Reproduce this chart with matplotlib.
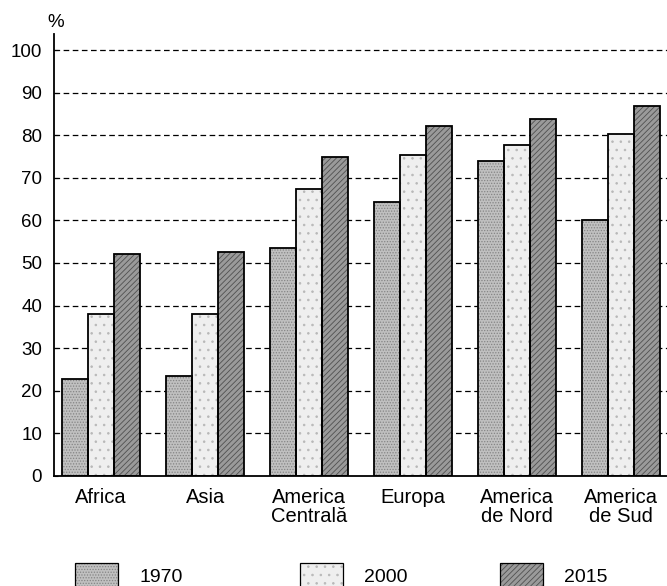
import numpy as np
import matplotlib
matplotlib.use("Agg")
import matplotlib.pyplot as plt
from matplotlib.patches import Patch

plt.rcParams['font.family'] = ['Liberation Sans', 'DejaVu Sans']
plt.rcParams['hatch.linewidth'] = 0.6

regions = ['Africa', 'Asia', 'America\nCentrală', 'Europa', 'America\nde Nord', 'America\nde Sud']
years = ['1970', '2000', '2015']
val_1970 = [22.8, 23.5, 53.6, 64.4, 74.0, 60.2]
val_2000 = [38.1, 38.1, 67.4, 75.4, 77.7, 80.3]
val_2015 = [52.0, 52.7, 75.0, 82.2, 83.8, 86.9]

# aspect van fiecare serie: fundal, textura, culoare textura
styles = [('#c0c0c0', '......', '#858585'),
          ('#efefef', '..', '#b8b8b8'),
          ('#9a9a9a', '//////', '#505050')]

fig = plt.figure(figsize=(6.67, 5.86), dpi=100)
ax = fig.add_axes([0.081, 0.188, 0.919, 0.754])

x = np.arange(len(regions))
w = 0.25
series = [val_1970, val_2000, val_2015]
for k, vals in enumerate(series):
    fc, hatch, hc = styles[k]
    pos = x + (k - 1) * w
    ax.bar(pos, vals, w, color=fc, hatch=hatch, edgecolor=hc, linewidth=0, zorder=2)
    ax.bar(pos, vals, w, fill=False, edgecolor='black', linewidth=1.3, zorder=3)

ax.set_xlim(-0.452, 5.44)
ax.set_ylim(0, 103.8)
ax.set_yticks(range(0, 101, 10))
ax.set_xticks(x)
ax.set_xticklabels(regions, fontsize=14.5, linespacing=1.0)
ax.tick_params(axis='x', length=0, pad=9)
ax.tick_params(axis='y', length=3, direction='in', labelsize=13.5, pad=8.5)

for v in range(10, 101, 10):
    ax.axhline(v, color='black', linewidth=0.9, linestyle=(0, (4.5, 2.8)), zorder=1)

for s in ['top', 'right']:
    ax.spines[s].set_visible(False)
ax.spines['left'].set_linewidth(1.3)
ax.spines['bottom'].set_linewidth(1.3)

ax.text(0.003, 1.016, '%', transform=ax.transAxes, fontsize=13.5, ha='center', va='baseline')

# legenda: trei intrari separate, cu pozitii proprii
legend_left = [75 / 667, 300 / 667, 500 / 667]
for k, year in enumerate(years):
    fc, h, hc = styles[k]
    handle = (Patch(facecolor=fc, hatch=h, edgecolor=hc, linewidth=0),
              Patch(fill=False, edgecolor='black', linewidth=0.9))
    fig.legend([handle], [year], loc='center left', bbox_to_anchor=(legend_left[k], 0.017),
               frameon=False, fontsize=14, handlelength=2.2, handleheight=1.7,
               handletextpad=1.1, borderpad=0, borderaxespad=0)

fig.savefig('out.png', dpi=100)
